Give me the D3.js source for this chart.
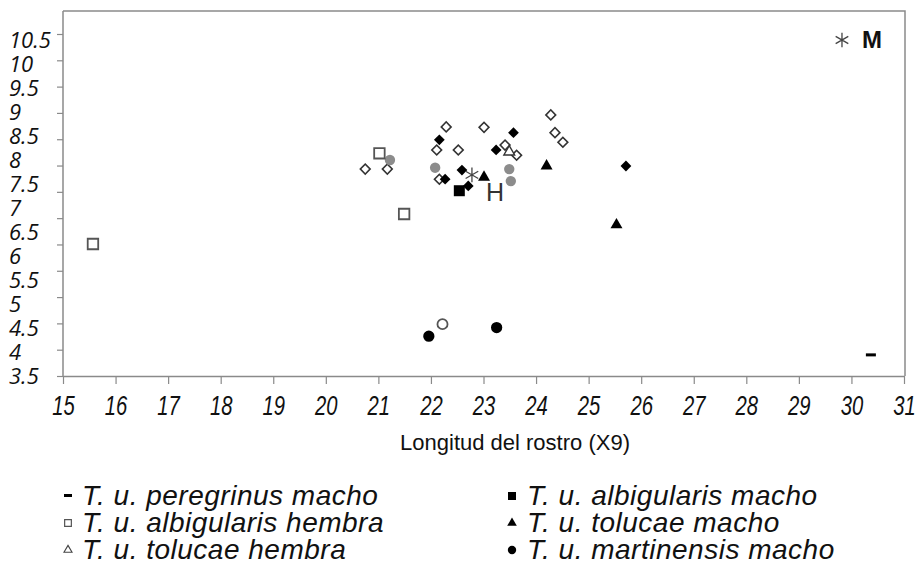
<!DOCTYPE html>
<html><head><meta charset="utf-8">
<script src="https://cdn.jsdelivr.net/npm/d3@7"></script>
<style>
body{margin:0;background:#fff;}
svg{display:block;}
</style></head>
<body><svg id="c" width="920" height="572"></svg>
<script>
// ---- data ----
const xTickValues = [15,16,17,18,19,20,21,22,23,24,25,26,27,28,29,30,31];
const yTickLabels = [3.5,4,4.5,5,5.5,6,6.5,7,7.5,8,8.5,9,9.5,10,10.5];
const yTickMarks = [0,1,2,3,4,5,6,7,8,9,10,11,12,13];

const peregrinusMachoX = [30.37];
const peregrinusMachoY = [3.94];
const albigularisHembraX = [15.57, 21.02, 21.49];
const albigularisHembraY = [6.25, 8.14, 6.875];
const albigularisMachoX = [22.54];
const albigularisMachoY = [7.36];
const tolucaeMachoX = [23.01, 24.20, 25.53];
const tolucaeMachoY = [7.64, 7.875, 6.65];
const tolucaeHembraX = [23.49];
const tolucaeHembraY = [8.17];
const martinensisMachoX = [21.96, 23.25];
const martinensisMachoY = [4.33, 4.51];
const openCircleX = [22.22];
const openCircleY = [4.58];
const grayCircleX = [21.22, 22.08, 23.49, 23.52];
const grayCircleY = [8.0, 7.84, 7.81, 7.56];
const openDiamondX = [20.75, 21.17, 22.29, 22.11, 22.52, 22.16, 23.01, 23.41, 23.63, 24.28, 24.36, 24.51];
const openDiamondY = [7.81, 7.81, 8.69, 8.21, 8.21, 7.60, 8.68, 8.31, 8.10, 8.94, 8.57, 8.37];
const filledDiamondX = [22.16, 22.27, 22.59, 22.71, 23.57, 23.24, 25.71];
const filledDiamondY = [8.42, 7.60, 7.79, 7.46, 8.57, 8.21, 7.875];
const centroidLabels = ["H", "M"];
const centroidX = [22.78, 29.82];
const centroidY = [7.69, 10.5];

const xTitle = "Longitud del rostro (X9)";
const legendLeft = ["T. u. peregrinus macho", "T. u. albigularis hembra", "T. u. tolucae hembra"];
const legendRight = ["T. u. albigularis macho", "T. u. tolucae macho", "T. u. martinensis macho"];

// ---- layout ----
const svg = d3.select("#c");
svg.append("rect").attr("width",920).attr("height",572).attr("fill","#fff");
const L = 63, R = 904, T = 11, B = 376;
const x = d3.scaleLinear().domain([15,31]).range([L,R]);
const y = d3.scaleLinear().domain([3.5,10.5]).range([B,40]);
const yMark = d3.scaleLinear().domain([0,13]).range([B,34]);
const axisColor = "#8a8a8a";

// frame (top & right)
svg.append("path").attr("d",`M${L},${T}H${R+1}V${B}`).attr("fill","none").attr("stroke",axisColor).attr("stroke-width",1.5);

// x axis
const gx = svg.append("g").attr("transform",`translate(0,${B})`)
  .call(d3.axisBottom(x).tickValues(xTickValues).tickSize(8).tickSizeOuter(0).tickFormat(d3.format("d")));
gx.select(".domain").attr("stroke",axisColor).attr("stroke-width",1.5);
gx.selectAll(".tick line").attr("stroke",axisColor).attr("stroke-width",1.2);
gx.selectAll(".tick text").attr("font-family","Liberation Sans, Arial, sans-serif").attr("font-style","italic")
  .attr("font-size",22).attr("fill","#111").attr("y",0).attr("dy","0.71em")
  .attr("transform","translate(0,19) scale(0.92,1.25)");

// y axis: tick marks
const gy = svg.append("g").attr("transform",`translate(${L},0)`)
  .call(d3.axisLeft(yMark).tickValues(yTickMarks).tickSize(6).tickSizeOuter(0).tickFormat(""));
gy.select(".domain").attr("stroke",axisColor).attr("stroke-width",1.5).attr("d",`M0,${B}V${T}`);
gy.selectAll(".tick line").attr("stroke",axisColor).attr("stroke-width",1.2);

// y labels
svg.append("g").selectAll("text").data(yTickLabels).join("text")
  .attr("x",9).attr("y",d=>y(d)).attr("dy","0.36em")
  .attr("font-family","Open Sans, Noto Sans, sans-serif").attr("font-style","italic")
  .attr("font-size",22).attr("fill","#111").text(d=>d);

// x title
svg.append("text").attr("x",515).attr("y",442).attr("dy","0.35em").attr("text-anchor","middle")
  .attr("font-family","Liberation Sans, Arial, sans-serif").attr("font-size",22).attr("fill","#111").text(xTitle);

// ---- marks ----
const plot = svg.append("g");
const zip = (xs,ys)=>xs.map((v,i)=>[v,ys[i]]);
function sym(data, type, size, attrs, rot){
  const s = plot.append("g").selectAll("path").data(data).join("path")
    .attr("d", d3.symbol().type(type).size(size))
    .attr("transform", d=>`translate(${x(d[0])},${y(d[1])})${rot?` rotate(${rot})`:""}`);
  for (const k in attrs) s.attr(k, attrs[k]);
  return s;
}
sym(zip(openDiamondX,openDiamondY), d3.symbolSquare, 48, {fill:"#fff",stroke:"#333","stroke-width":1.6}, 45);
sym(zip(grayCircleX,grayCircleY), d3.symbolCircle, 85, {fill:"#8c8c8c"});
sym(zip(albigularisHembraX,albigularisHembraY), d3.symbolSquare, 110, {fill:"#fff",stroke:"#555","stroke-width":1.8});
sym(zip(tolucaeHembraX,tolucaeHembraY), d3.symbolTriangle, 50, {fill:"#fff",stroke:"#333","stroke-width":1.4});
sym(zip(filledDiamondX,filledDiamondY), d3.symbolSquare, 58, {fill:"#000"}, 45);
sym(zip(albigularisMachoX,albigularisMachoY), d3.symbolSquare, 121, {fill:"#000"});
sym(zip(tolucaeMachoX,tolucaeMachoY), d3.symbolTriangle, 62, {fill:"#000"});
sym(zip(martinensisMachoX,martinensisMachoY), d3.symbolCircle, 100, {fill:"#000"});
sym(zip(openCircleX,openCircleY), d3.symbolCircle, 80, {fill:"#fff",stroke:"#555","stroke-width":1.8});
plot.append("g").selectAll("rect").data(zip(peregrinusMachoX,peregrinusMachoY)).join("rect")
  .attr("x",d=>x(d[0])-5).attr("y",d=>y(d[1])-1.5).attr("width",10).attr("height",3).attr("fill","#000");
const cen = centroidLabels.map((l,i)=>({l, x:centroidX[i], y:centroidY[i]}));
plot.append("g").selectAll("path").data(cen).join("path")
  .attr("d", d3.symbol().type(d3.symbolAsterisk).size(150))
  .attr("transform", d=>`translate(${x(d.x)},${y(d.y)})`)
  .attr("fill","none").attr("stroke","#444").attr("stroke-width",1.3);
plot.append("g").selectAll("text").data(cen).join("text")
  .attr("x", d=> d.l==="H" ? x(d.x)+23 : x(d.x)+30)
  .attr("y", d=> d.l==="H" ? y(d.y)+17 : y(d.y))
  .attr("dy","0.35em").attr("text-anchor","middle")
  .attr("font-family","Liberation Sans, Arial, sans-serif")
  .attr("font-size", d=> d.l==="H" ? 25 : 24)
  .attr("font-weight", d=> d.l==="H" ? "normal" : "bold")
  .attr("fill", d=> d.l==="H" ? "#333" : "#111")
  .text(d=>d.l);

// ---- legend ----
const legY = [495,522,549];
const lg = svg.append("g").attr("font-family","Liberation Sans, Arial, sans-serif").attr("font-style","italic")
  .attr("font-size",28).attr("letter-spacing","0.5px").attr("fill","#111");
lg.selectAll("text.l").data(legendLeft).join("text").attr("class","l")
  .attr("x",82).attr("y",(d,i)=>legY[i]).attr("dy","0.35em").text(d=>d);
lg.selectAll("text.r").data(legendRight).join("text").attr("class","r")
  .attr("x",527).attr("y",(d,i)=>legY[i]).attr("dy","0.35em").text(d=>d);
const lm = svg.append("g");
lm.append("rect").attr("x",64).attr("y",legY[0]-1).attr("width",8).attr("height",3).attr("fill","#000");
lm.append("path").attr("d",d3.symbol().type(d3.symbolSquare).size(45)).attr("transform",`translate(68,${legY[1]+1})`).attr("fill","#fff").attr("stroke","#555").attr("stroke-width",1.2);
lm.append("path").attr("d",d3.symbol().type(d3.symbolTriangle).size(28)).attr("transform",`translate(68,${legY[2]+1})`).attr("fill","#fff").attr("stroke","#444").attr("stroke-width",1.1);
lm.append("path").attr("d",d3.symbol().type(d3.symbolSquare).size(64)).attr("transform",`translate(512,${legY[0]+1})`).attr("fill","#000");
lm.append("path").attr("d",d3.symbol().type(d3.symbolTriangle).size(40)).attr("transform",`translate(512,${legY[1]+1})`).attr("fill","#000");
lm.append("path").attr("d",d3.symbol().type(d3.symbolCircle).size(55)).attr("transform",`translate(512,${legY[2]+1})`).attr("fill","#000");
</script></body></html>
